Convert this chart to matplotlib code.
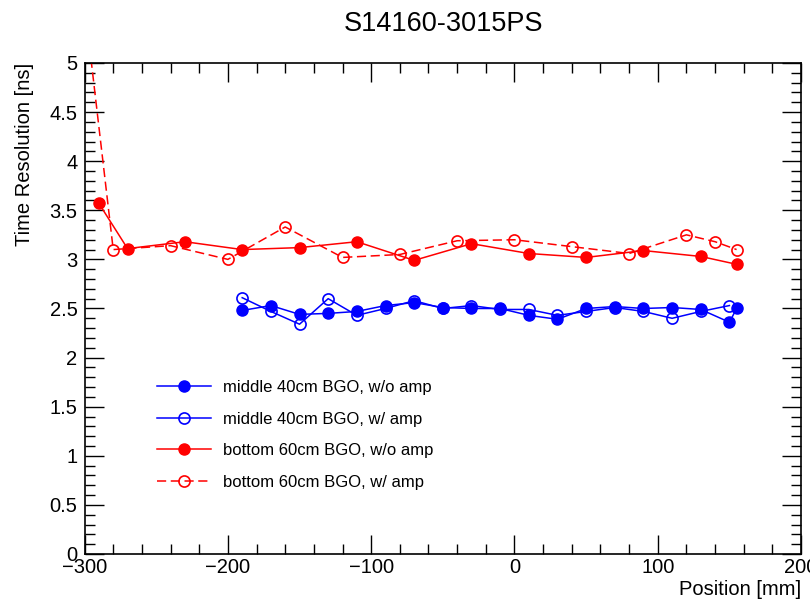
import numpy as np
import matplotlib
matplotlib.use("Agg")
import matplotlib.pyplot as plt
from matplotlib.ticker import MultipleLocator, FormatStrFormatter

plt.rcParams['font.family'] = ['Liberation Sans', 'DejaVu Sans']

# middle 40cm BGO, w/o amp
mid_noamp_x = [-190, -170, -150, -130, -110, -90, -70, -50, -30, -10, 10, 30, 50, 70, 90, 110, 130, 150, 155]
mid_noamp_y = [2.48, 2.53, 2.44, 2.45, 2.47, 2.53, 2.56, 2.51, 2.50, 2.50, 2.43, 2.39, 2.50, 2.52, 2.50, 2.51, 2.49, 2.36, 2.50]

# middle 40cm BGO, w/ amp
mid_amp_x = [-190, -170, -150, -130, -110, -90, -70, -50, -30, -10, 10, 30, 50, 70, 90, 110, 130, 150]
mid_amp_y = [2.61, 2.47, 2.34, 2.60, 2.43, 2.50, 2.58, 2.50, 2.53, 2.49, 2.49, 2.43, 2.47, 2.51, 2.47, 2.40, 2.47, 2.53]

# bottom 60cm BGO, w/o amp
bot_noamp_x = [-290, -270, -230, -190, -150, -110, -70, -30, 10, 50, 90, 130, 155]
bot_noamp_y = [3.57, 3.11, 3.18, 3.10, 3.12, 3.18, 2.99, 3.16, 3.06, 3.02, 3.09, 3.03, 2.95]

# bottom 60cm BGO, w/ amp
bot_amp_x = [-300, -280, -240, -200, -160, -120, -80, -40, 0, 40, 80, 120, 140, 155]
bot_amp_y = [5.6, 3.10, 3.14, 3.00, 3.33, 3.02, 3.05, 3.19, 3.20, 3.13, 3.06, 3.25, 3.18, 3.10]

fig = plt.figure(figsize=(8.1, 6.0), dpi=100)
ax = fig.add_axes([0.1044, 0.0767, 0.8846, 0.8183])

ms = 8
ax.plot(mid_noamp_x, mid_noamp_y, '-', color='#0000ff', lw=1.1, marker='o', ms=ms,
        mfc='#0000ff', mec='#0000ff', label='middle 40cm BGO, w/o amp')
ax.plot(mid_amp_x, mid_amp_y, '-', color='#0000ff', lw=1.1, marker='o', ms=ms,
        mfc='none', mec='#0000ff', mew=1.2, label='middle 40cm BGO, w/ amp')
ax.plot(bot_noamp_x, bot_noamp_y, '-', color='#ff0000', lw=1.1, marker='o', ms=ms,
        mfc='#ff0000', mec='#ff0000', label='bottom 60cm BGO, w/o amp')
ax.plot(bot_amp_x, bot_amp_y, color='#ff0000', lw=1.1, dashes=(6, 3), marker='o', ms=ms,
        mfc='none', mec='#ff0000', mew=1.2, label='bottom 60cm BGO, w/ amp')

ax.set_xlim(-300, 200)
ax.set_ylim(0, 5)
ax.xaxis.set_major_locator(MultipleLocator(100))
ax.xaxis.set_minor_locator(MultipleLocator(20))
ax.yaxis.set_major_locator(MultipleLocator(0.5))
ax.yaxis.set_minor_locator(MultipleLocator(0.1))
ax.yaxis.set_major_formatter(FormatStrFormatter('%g'))
ax.tick_params(which='both', direction='in', top=True, right=True, labelsize=14.5, width=1)
ax.tick_params(which='major', length=14)
ax.tick_params(which='minor', length=7)
ax.tick_params(axis='y', pad=5)
ax.tick_params(axis='x', pad=3)
for s in ax.spines.values():
    s.set_linewidth(1.2)

ax.set_xlabel('Position [mm]', fontsize=14.5, loc='right', labelpad=2)
ax.set_ylabel('Time Resolution [ns]', fontsize=14.5, loc='top', labelpad=11)
fig.suptitle('S14160-3015PS', fontsize=19.5, x=0.547, y=0.982)

ax.legend(loc='upper left', bbox_to_anchor=(0.186, 0.378), bbox_transform=fig.transFigure,
          frameon=False, fontsize=12, handlelength=3.2, handletextpad=0.72,
          labelspacing=1.0, borderaxespad=0)

fig.savefig('out.png', dpi=100)
